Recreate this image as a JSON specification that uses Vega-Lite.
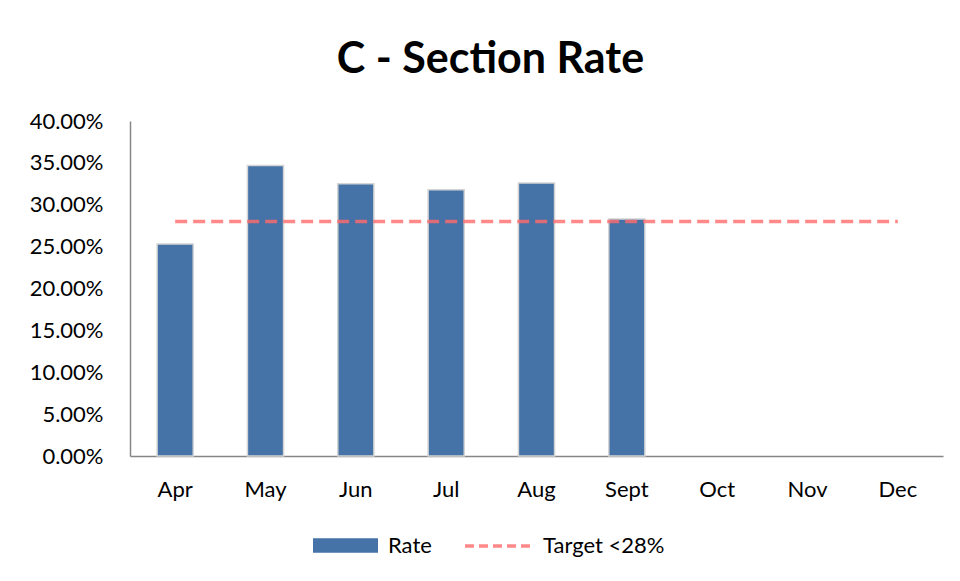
{
  "$schema": "https://vega.github.io/schema/vega-lite/v6.json",
  "width": 813,
  "height": 335,
  "autosize": "none",
  "padding": {"left": 130, "top": 121, "right": 17, "bottom": 125},
  "background": "white",
  "title": {
    "text": "C - Section Rate",
    "font": "Lato",
    "fontSize": 43,
    "fontWeight": "bold",
    "color": "black",
    "anchor": "middle",
    "dx": -46,
    "offset": 28
  },
  "data": {
    "values": [
      {"month": "Apr", "rate": 0.253, "target": 0.28, "series": "Rate", "tseries": "Target <28%"},
      {"month": "May", "rate": 0.347, "target": 0.28, "series": "Rate", "tseries": "Target <28%"},
      {"month": "Jun", "rate": 0.325, "target": 0.28, "series": "Rate", "tseries": "Target <28%"},
      {"month": "Jul", "rate": 0.318, "target": 0.28, "series": "Rate", "tseries": "Target <28%"},
      {"month": "Aug", "rate": 0.326, "target": 0.28, "series": "Rate", "tseries": "Target <28%"},
      {"month": "Sept", "rate": 0.283, "target": 0.28, "series": "Rate", "tseries": "Target <28%"},
      {"month": "Oct", "rate": null, "target": 0.28, "series": "Rate", "tseries": "Target <28%"},
      {"month": "Nov", "rate": null, "target": 0.28, "series": "Rate", "tseries": "Target <28%"},
      {"month": "Dec", "rate": null, "target": 0.28, "series": "Rate", "tseries": "Target <28%"}
    ]
  },
  "encoding": {
    "x": {
      "field": "month",
      "type": "nominal",
      "sort": null,
      "scale": {"paddingInner": 0.6, "paddingOuter": 0.3},
      "axis": {
        "title": null,
        "labelAngle": 0,
        "ticks": false,
        "labelPadding": 23,
        "labelFont": "Lato",
        "labelFontSize": 22,
        "labelColor": "black",
        "domainColor": "#868686",
        "domainWidth": 1.5
      }
    }
  },
  "layer": [
    {
      "mark": {"type": "bar", "stroke": "#d4d4d4", "strokeWidth": 1.5},
      "encoding": {
        "y": {
          "field": "rate",
          "type": "quantitative",
          "scale": {"domain": [0, 0.4]},
          "axis": {
            "title": null,
            "format": ".2%",
            "values": [0, 0.05, 0.1, 0.15, 0.2, 0.25, 0.3, 0.35, 0.4],
            "labelOverlap": false,
            "grid": false,
            "ticks": false,
            "labelPadding": 27,
            "labelFont": "Lato",
            "labelFontSize": 22,
            "labelColor": "black",
            "domainColor": "#868686",
            "domainWidth": 1.5
          }
        },
        "fill": {
          "field": "series",
          "type": "nominal",
          "scale": {"domain": ["Rate"], "range": ["#4572a7"]},
          "legend": {
            "title": null,
            "orient": "none",
            "legendX": 183,
            "legendY": 392,
            "padding": 0,
            "direction": "horizontal",
            "symbolType": "M-1,-0.22H1V0.22H-1Z",
            "symbolSize": 4225,
            "symbolStrokeWidth": 0,
            "labelFont": "Lato",
            "labelFontSize": 22,
            "labelColor": "black",
            "labelOffset": 10
          }
        }
      }
    },
    {
      "mark": {"type": "line", "strokeWidth": 3.5, "strokeDash": [12, 6], "opacity": 0.8},
      "encoding": {
        "y": {"field": "target", "type": "quantitative"},
        "stroke": {
          "field": "tseries",
          "type": "nominal",
          "scale": {"domain": ["Target <28%"], "range": ["#ff6b6b"]},
          "legend": {
            "title": null,
            "orient": "none",
            "legendX": 333,
            "legendY": 388,
            "padding": 0,
            "direction": "horizontal",
            "symbolType": "M-1,0H1",
            "symbolSize": 4900,
            "symbolStrokeWidth": 3.5,
            "symbolDash": [9, 5],
            "symbolOpacity": 0.8,
            "labelFont": "Lato",
            "labelFontSize": 22,
            "labelColor": "black",
            "labelOffset": 6
          }
        }
      }
    }
  ],
  "config": {
    "view": {"stroke": null}
  }
}
